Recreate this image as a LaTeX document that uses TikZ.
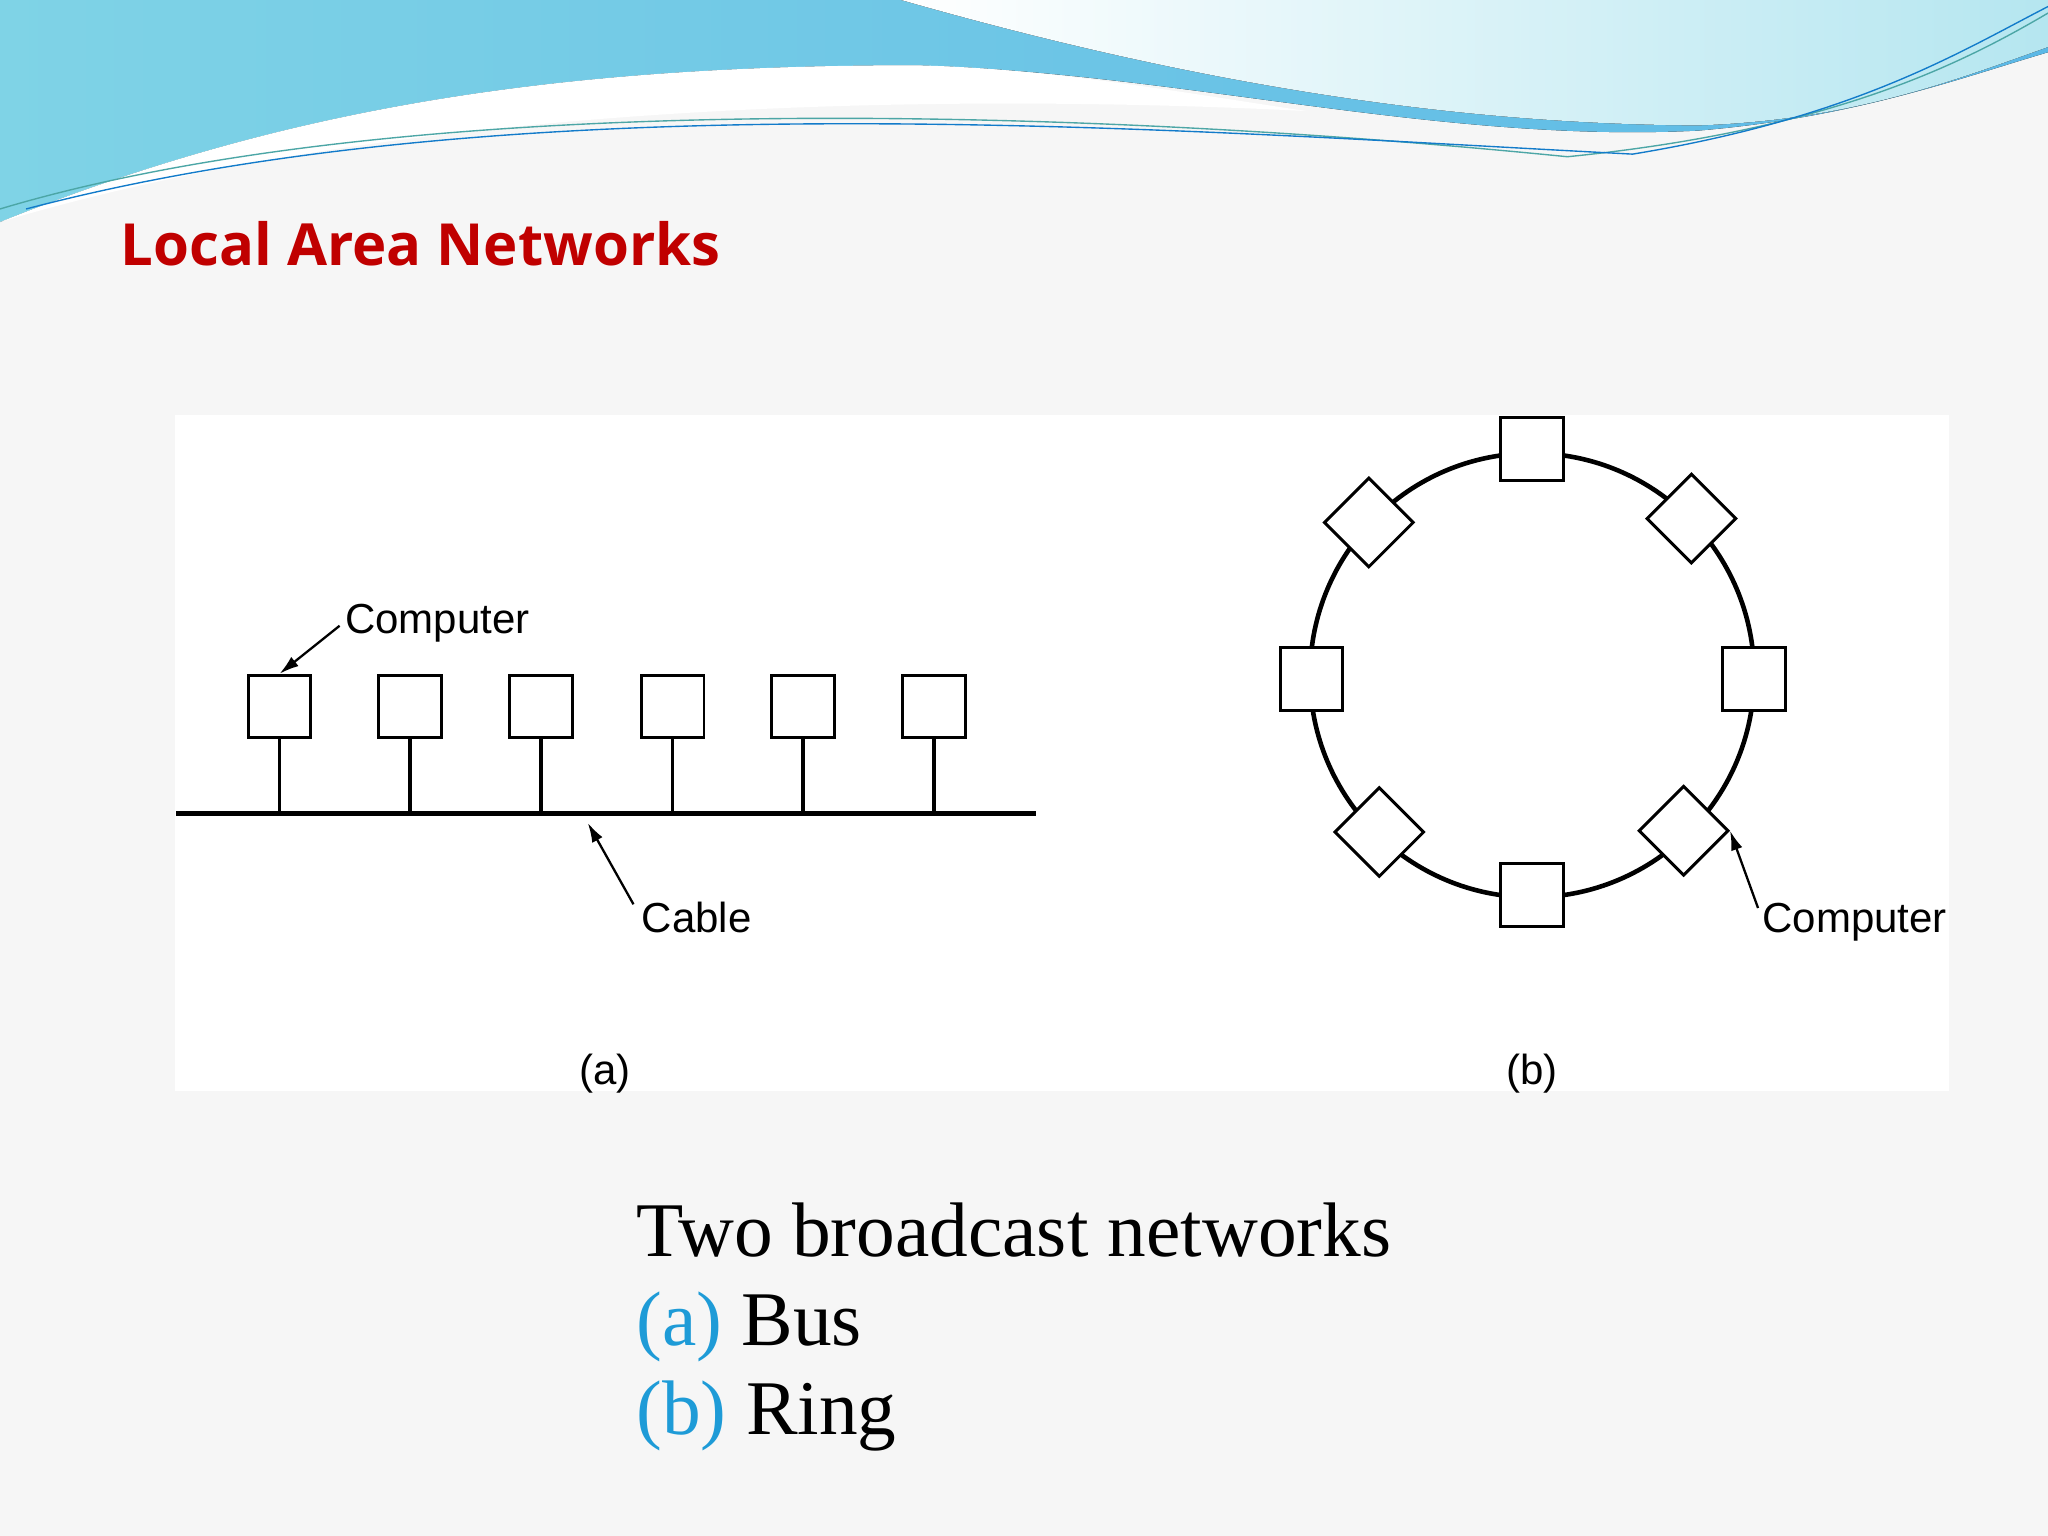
\documentclass[tikz,border=0pt]{standalone}
\usepackage{fontspec}
\setmainfont{Liberation Serif}
\setsansfont{Liberation Sans}
\newfontfamily\titlefont{Open Sans}
\usetikzlibrary{arrows.meta}
\begin{document}
\begin{tikzpicture}[x=0.02cm,y=-0.02cm,
  pc/.style={draw,line width=1.3pt,fill=white,minimum size=0.96cm,inner sep=0pt},
  dia/.style={pc,rotate=45},
  lbl/.style={font=\sffamily\fontsize{18.3}{20}\selectfont,inner sep=0pt},
  arr/.style={-{Latex[length=0.3cm,width=0.18cm]},line width=1pt}]
\definecolor{bg}{HTML}{F6F6F6}
\definecolor{tred}{HTML}{C00000}
\definecolor{acc}{HTML}{1E9BD7}
\definecolor{w1}{HTML}{7FD3E6}
\definecolor{w2}{HTML}{5BB8E6}
\definecolor{w3}{HTML}{B5E6F0}
\fill[bg] (0,0) rectangle (1568,1176);
\useasboundingbox (0,0) rectangle (1568,1176);
% top wave
\fill[left color=w1,right color=w2] (0,0) -- (0,170) .. controls (200,90) and (400,50) .. (700,50) .. controls (900,55) and (1100,110) .. (1300,100) .. controls (1420,90) and (1500,60) .. (1568,40) -- (1568,0) -- cycle;
\fill[white] (0,170) .. controls (200,90) and (400,50) .. (700,50) .. controls (800,52) and (900,70) .. (1000,85) .. controls (700,70) and (300,80) .. (0,170) -- cycle;
\fill[left color=white,right color=w3] (690,0) .. controls (900,60) and (1100,95) .. (1300,96) .. controls (1420,92) and (1500,60) .. (1568,36) -- (1568,0) -- cycle;
\draw[teal!70,line width=0.6pt] (0,160) .. controls (300,70) and (800,80) .. (1200,120) .. controls (1400,100) and (1500,50) .. (1568,10);
\draw[cyan!60!blue,line width=0.6pt] (20,160) .. controls (400,60) and (900,100) .. (1250,118) .. controls (1420,90) and (1500,40) .. (1568,5);
\node[anchor=base west,text=tred,font=\titlefont\bfseries\fontsize{25.3}{28}\selectfont,inner sep=0pt] (title) at (92,203) {Local Area Networks};
% panel
\fill[white] (134,318) rectangle (1492,835);
% bus
\coordinate (b1) at (135,623); \coordinate (b2) at (793,623);
\draw[line width=2pt] (b1) -- (b2);
\foreach \i/\x in {1/214,2/314,3/414,4/515,5/615,6/715}{
  \node[pc] (c\i) at (\x,541) {};
  \coordinate (s\i) at (\x,623);
  \draw[line width=1.6pt] (c\i.south) -- (s\i);
}
\node[lbl,anchor=base west] (comp1) at (264,485) {Computer};
\draw[arr] (comp1.west) ++(-4,2) -- (c1.north);
\node[lbl,anchor=base west] (cable) at (491,714) {Cable};
\coordinate (cb) at (450,630);
\draw[arr] (cable.north west) ++(-6,2) -- (cb);
\node[lbl,anchor=base] (la) at (463,830) {(a)};
% ring
\coordinate (rc) at (1173,517);
\draw[line width=2pt] (rc) circle [radius=170];
\node[pc] (r1) at (1173,344) {};
\node[pc] (r2) at (1173,685) {};
\node[pc] (r3) at (1004,520) {};
\node[pc] (r4) at (1343,520) {};
\node[dia] (r5) at (1048,400) {};
\node[dia] (r6) at (1295,397) {};
\node[dia] (r7) at (1056,637) {};
\node[dia] (r8) at (1289,636) {};
\node[lbl,anchor=base west] (comp2) at (1349,714) {Computer};
\draw[arr] (comp2.north west) ++(-3,4) -- (r8.south east);
\node[lbl,anchor=base] (lb) at (1173,830) {(b)};
% caption
\node[anchor=base west,inner sep=0pt,font=\fontsize{33.7}{38}\selectfont] (cap) at (487,962) {Two broadcast networks};
\node[anchor=base west,inner sep=0pt,font=\fontsize{33.7}{38}\selectfont] (ca) at (487,1030) {\textcolor{acc}{(a)} Bus};
\node[anchor=base west,inner sep=0pt,font=\fontsize{33.7}{38}\selectfont] (cb2) at (487,1098) {\textcolor{acc}{(b)} Ring};
\end{tikzpicture}
\end{document}
